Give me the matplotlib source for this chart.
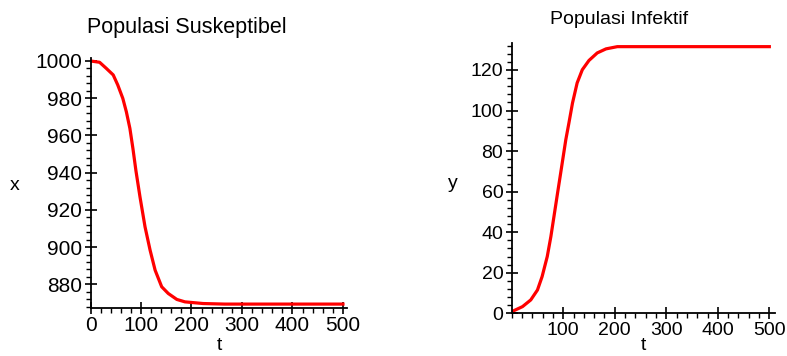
import matplotlib.pyplot as plt
from matplotlib.ticker import MultipleLocator

plt.rcParams['font.family'] = ['Liberation Sans', 'DejaVu Sans']

# Populasi Suskeptibel (x)
t_s = [0, 18, 31, 45, 54, 64, 71, 78, 84, 90, 98, 108, 118, 128, 141, 154, 171,
       187, 223, 266, 500]
s_vals = [1000, 999.3, 996.1, 992.5, 987.1, 979.9, 972.7, 963.8, 953, 941, 927,
          910.9, 898.4, 887.6, 878.7, 875.1, 871.9, 870.6, 869.7, 869.4, 869.4]

# Populasi Infektif (y)
t_i = [0, 21, 37, 50, 59, 69, 76, 82, 89, 95, 105, 111, 118, 127, 137, 150, 166,
       183, 205, 500]
i_vals = [0.8, 3.3, 6.6, 11.5, 18.1, 28, 37.8, 47.7, 59.3, 69.1, 85.6, 93.8, 103.7,
          113.6, 120.1, 124.7, 128.4, 130.4, 131.5, 131.5]

s_yticks = [880, 900, 920, 940, 960, 980, 1000]
s_xticks = [0, 100, 200, 300, 400, 500]
i_yticks = [0, 20, 40, 60, 80, 100, 120]
i_xticks = [100, 200, 300, 400, 500]

W, H = 787, 356
fig = plt.figure(figsize=(W / 100, H / 100), dpi=100)


def frac(x0, y0, x1, y1):
    # pixel box -> figure fraction [left, bottom, width, height]
    return [x0 / W, 1 - y1 / H, (x1 - x0) / W, (y1 - y0) / H]


def style_axes(ax, fs):
    for side in ('top', 'right'):
        ax.spines[side].set_visible(False)
    for side in ('left', 'bottom'):
        ax.spines[side].set_linewidth(1.3)
    ax.xaxis.set_minor_locator(MultipleLocator(20))
    ax.yaxis.set_minor_locator(MultipleLocator(4))
    ax.tick_params(which='major', direction='inout', length=8, width=1.2,
                   labelsize=fs, pad=2)
    ax.tick_params(which='minor', direction='out', length=3.5, width=1.0)


ax1 = fig.add_axes(frac(90.5, 58, 347, 308))
ax1.plot(t_s, s_vals, color='#ff0000', lw=2.3)
ax1.set_xlim(0, 508)
ax1.set_ylim(867.3, 1001.6)
ax1.set_xticks(s_xticks)
ax1.set_yticks(s_yticks)
style_axes(ax1, 15)

ax2 = fig.add_axes(frac(511.7, 43, 775, 313.3))
ax2.plot(t_i, i_vals, color='#ff0000', lw=2.3)
ax2.set_xlim(0, 511)
ax2.set_ylim(0, 133.3)
ax2.set_xticks(i_xticks)
ax2.set_yticks(i_yticks)
style_axes(ax2, 14)

# titles and axis names placed like the Maple output
fig.text(187 / W, 1 - 27 / H, 'Populasi Suskeptibel', ha='center', va='center', fontsize=15.5)
fig.text(619 / W, 1 - 20 / H, 'Populasi Infektif', ha='center', va='center', fontsize=14)
fig.text(15 / W, 1 - 185 / H, 'x', ha='center', va='center', fontsize=14)
fig.text(219 / W, 1 - 345 / H, 't', ha='center', va='center', fontsize=14)
fig.text(453 / W, 1 - 183 / H, 'y', ha='center', va='center', fontsize=14)
fig.text(643 / W, 1 - 346 / H, 't', ha='center', va='center', fontsize=14)

fig.savefig('out.png', dpi=100)
